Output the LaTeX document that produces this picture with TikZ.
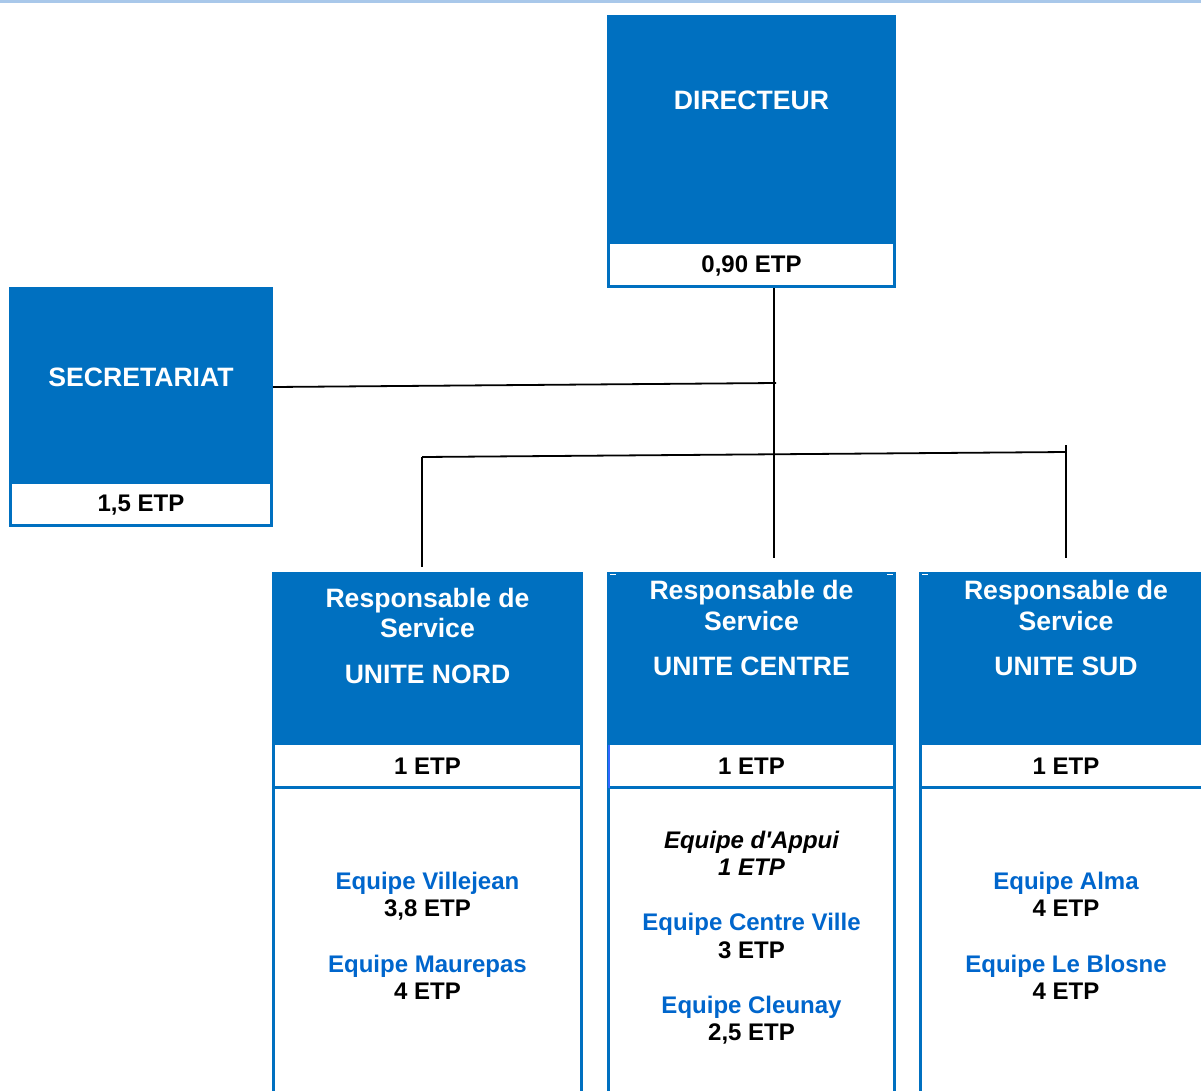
\documentclass[tikz,border=0pt]{standalone}
\usepackage{fontspec}
\setmainfont{Liberation Sans}
\definecolor{boxblue}{HTML}{0070C0}
\definecolor{teamblue}{HTML}{0066CC}
\definecolor{topline}{HTML}{A9C8EA}
\definecolor{edgeblue}{HTML}{3366FF}
\tikzset{
  bluebox/.style={fill=boxblue, draw=none, inner sep=0pt, outer sep=0pt, anchor=north west},
  band/.style={draw=boxblue, line width=3pt, fill=white, inner sep=0pt, outer sep=0pt, anchor=north west},
  head/.style={text=white, font=\bfseries\fontsize{26.6}{30}\selectfont, anchor=base, inner sep=0pt},
  etp/.style={text=black, font=\bfseries\fontsize{24}{27}\selectfont, anchor=base, inner sep=0pt},
  team/.style={text=teamblue, font=\bfseries\fontsize{24}{27}\selectfont, anchor=base, inner sep=0pt},
  appui/.style={text=black, font=\bfseries\itshape\fontsize{24}{27}\selectfont, anchor=base, inner sep=0pt},
  link/.style={line width=1.8pt, black},
}
\begin{document}
\begin{tikzpicture}[x=1pt,y=-1pt]
\useasboundingbox (0,0) rectangle (1201,1090);
\fill[topline] (0,0) rectangle (1201,2.5);

% DIRECTEUR
\node[bluebox, minimum width=289pt, minimum height=228pt] (dirblue) at (607,15) {};
\node[band, minimum width=286pt, minimum height=44pt] (dirband) at (608.5,242.5) {};
\node[head] (dirtxt) at (751.5,109.5) {DIRECTEUR};
\node[etp] (diretp) at (751.5,272.6) {0,90 ETP};

% SECRETARIAT
\node[bluebox, minimum width=264pt, minimum height=195pt] (secblue) at (9,287) {};
\node[band, minimum width=261pt, minimum height=43pt] (secband) at (10.5,482.5) {};
\node[head] (sectxt) at (141,386.5) {SECRETARIAT};
\node[etp] (secetp) at (141,511.6) {1,5 ETP};

% UNITE NORD
\node[bluebox, minimum width=311pt, minimum height=171pt] (nordblue) at (272,572) {};
\node[band, minimum width=308pt, minimum height=320pt] (nordbody) at (273.5,787.5) {};
\node[band, minimum width=308pt, minimum height=44pt] (nordband) at (273.5,743.5) {};
\node[head] (nordr) at (427.5,607.5) {Responsable de};
\node[head] (nords) at (427.5,637.5) {Service};
\node[head] (nordu) at (427.5,683.5) {UNITE NORD};
\node[etp] (nordetp) at (427.5,774.6) {1 ETP};
\node[team] (villejean) at (427.5,889.6) {Equipe Villejean};
\node[etp] (villejeanetp) at (427.5,916.6) {3,8 ETP};
\node[team] (maurepas) at (427.5,972.6) {Equipe Maurepas};
\node[etp] (maurepasetp) at (427.5,999.6) {4 ETP};

% UNITE CENTRE
\node[bluebox, minimum width=289pt, minimum height=173pt] (centreblue) at (607,572) {};
\node[band, minimum width=286pt, minimum height=320pt] (centrebody) at (608.5,787.5) {};
\node[band, minimum width=286pt, minimum height=44pt] (centreband) at (608.5,743.5) {};
\draw[edgeblue, line width=2pt] (centreband.north west) ++(0,1.5) -- (centreband.south west);
\draw[white, line width=1pt] (610,574.5) -- (616,574.5);
\draw[white, line width=1pt] (887,574.5) -- (893,574.5);
\node[head] (centrer) at (751.5,599.5) {Responsable de};
\node[head] (centres) at (751.5,630.5) {Service};
\node[head] (centreu) at (751.5,675.5) {UNITE CENTRE};
\node[etp] (centreetp) at (751.5,774.6) {1 ETP};
\node[appui] (appui) at (751.5,848.6) {Equipe d\textquotesingle Appui};
\node[appui] (appuietp) at (751.5,875.6) {1 ETP};
\node[team] (cville) at (751.5,930.6) {Equipe Centre Ville};
\node[etp] (cvilleetp) at (751.5,958.6) {3 ETP};
\node[team] (cleunay) at (751.5,1013.6) {Equipe Cleunay};
\node[etp] (cleunayetp) at (751.5,1040.6) {2,5 ETP};

% UNITE SUD
\node[bluebox, minimum width=294pt, minimum height=173pt] (sudblue) at (919,572) {};
\node[band, minimum width=291pt, minimum height=320pt] (sudbody) at (920.5,787.5) {};
\node[band, minimum width=291pt, minimum height=44pt] (sudband) at (920.5,743.5) {};
\draw[white, line width=1pt] (922,574.5) -- (928,574.5);
\node[head] (sudr) at (1066,599.5) {Responsable de};
\node[head] (suds) at (1066,630.5) {Service};
\node[head] (sudu) at (1066,675.5) {UNITE SUD};
\node[etp] (sudetp) at (1066,774.6) {1 ETP};
\node[team] (alma) at (1066,889.6) {Equipe Alma};
\node[etp] (almaetp) at (1066,916.6) {4 ETP};
\node[team] (blosne) at (1066,972.6) {Equipe Le Blosne};
\node[etp] (blosneetp) at (1066,999.6) {4 ETP};

% connectors
\coordinate (dtop) at (774,288);
\coordinate (dbot) at (774,558);
\coordinate (secend) at (273,387);
\coordinate (secjoin) at (776,383);
\coordinate (hl) at (422,457);
\coordinate (hr) at (1066,452);
\coordinate (nordend) at (422,567);
\coordinate (sudtop) at (1066,445);
\coordinate (sudend) at (1066,558);
\draw[link] (dtop) -- (dbot);
\draw[link] (secend) -- (secjoin);
\draw[link] (hl) -- (hr);
\draw[link] (hl) -- (nordend);
\draw[link] (sudtop) -- (sudend);
\end{tikzpicture}
\end{document}
